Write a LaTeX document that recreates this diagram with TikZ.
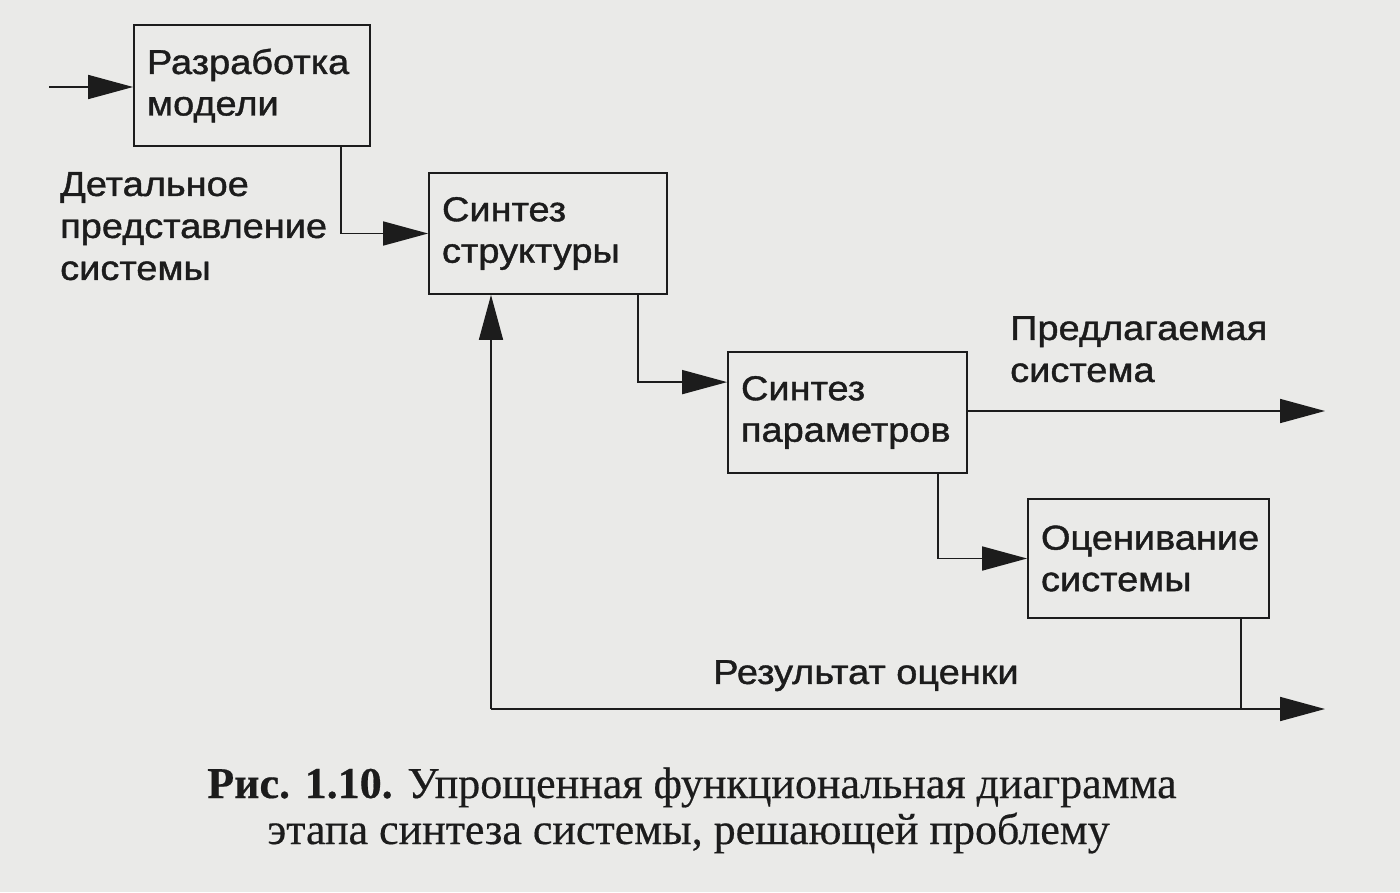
\documentclass[tikz,border=0pt]{standalone}
\usepackage{fontspec}
\setmainfont{Liberation Serif}
\newfontfamily\diafont[FakeStretch=1.1,FakeBold=1.2]{Liberation Sans}
\newfontfamily\capfont[FakeBold=0.4]{Liberation Serif}
\usetikzlibrary{arrows.meta,calc}
\definecolor{paper}{RGB}{234,234,232}
\definecolor{ink}{RGB}{28,28,28}
\tikzset{
  stagebox/.style={draw=ink, line width=1.8pt, align=left, inner xsep=13pt, inner ysep=0pt,
    font=\diafont\fontsize{34.5}{41.5}\selectfont, text=ink, anchor=center},
  lbl/.style={inner sep=0pt, align=left, anchor=north west,
    font=\diafont\fontsize{34.5}{42}\selectfont, text=ink},
  conn/.style={draw=ink, line width=1.7pt},
  arr/.style={conn, -{Triangle[length=45pt,width=24pt]}},
  captext/.style={inner sep=0pt, font=\capfont\fontsize{44}{46}\selectfont, text=ink, anchor=base}
}
\begin{document}
\begin{tikzpicture}[x=1pt,y=-1pt]
\fill[paper] (0,0) rectangle (1400,892);
\useasboundingbox (0,0) rectangle (1400,892);

\node[stagebox, minimum width=236pt, minimum height=121pt, text width=210pt] (b1) at (252,85.5) {Разработка\\модели};
\node[stagebox, minimum width=238pt, minimum height=121pt, text width=212pt] (b2) at (548,233.5) {Синтез\\структуры};
\node[stagebox, minimum width=239pt, minimum height=121pt, text width=213pt] (b3) at (847.5,412.5) {Синтез\\параметров};
\node[stagebox, minimum width=241pt, minimum height=119pt, text width=215pt] (b4) at (1148.5,558.5) {Оценивание\\системы};

\node[lbl] (l1) at (60,172) {Детальное\\представление\\системы};
\node[lbl] (l2) at (1010,316) {Предлагаемая\\система};
\node[lbl] (l3) at (713,660) {Результат оценки};

\coordinate (in) at (49,87);
\coordinate (out1) at (1325,411);
\coordinate (fb) at (491,709);
\coordinate (out2) at (1325,709);

\draw[arr] (in) -- (in -| b1.west);
\draw[arr] ([xshift=-30pt]b1.south east) |- (b2.west);
\draw[arr] ([xshift=-30pt]b2.south east) |- ([yshift=-31pt]b3.north west);
\draw[arr] (out1 -| b3.east) -- (out1);
\draw[arr] ([xshift=-30pt]b3.south east) |- (b4.west);
\draw[conn] ([xshift=-29pt]b4.south east) -- ([xshift=-29pt]b4.south east |- fb);
\draw[arr] (fb) -- (out2);
\draw[arr] (fb) -- (fb |- b2.south);

\node[captext] (c1) at (692,798) {\textbf{Рис. 1.10.} Упрощенная функциональная диаграмма};
\node[captext] (c2) at (688.5,844) {этапа синтеза системы, решающей проблему};
\end{tikzpicture}
\end{document}
